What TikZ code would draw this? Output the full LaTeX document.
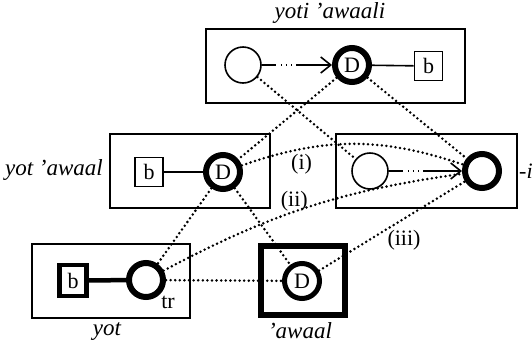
\documentclass[tikz,border=0pt]{standalone}
\usepackage{fontspec}
\setmainfont{Liberation Serif}
\usetikzlibrary{arrows.meta}
\begin{document}
\begin{tikzpicture}[x=1pt,y=-1pt,
  every node/.style={font=\fontsize{22}{26}\selectfont, inner sep=0pt},
  boxc/.style={draw, line width=1.6pt, rectangle, inner sep=0pt},
  thincirc/.style={draw, line width=1.6pt, circle, minimum size=36pt},
  thickcirc/.style={draw, line width=6pt, circle, minimum size=34pt},
  bbox/.style={draw, line width=1.6pt, rectangle, minimum width=28pt, minimum height=29pt},
  lab/.style={font=\fontsize{23}{27}\selectfont\itshape},
  dots/.style={line width=2.8pt, line cap=round, dash pattern=on 0pt off 4.6pt},
  dotarrow/.style={line width=1.6pt, dash pattern=on 14pt off 5pt on 0.1pt off 5pt on 0.1pt off 5pt on 0.1pt off 5pt on 60pt,
     -{Straight Barb[length=10pt,width=16pt,line width=1.6pt]}},
  solidcon/.style={line width=1.6pt}
]
\useasboundingbox (0,0) rectangle (532,346);
% containers
\node[boxc, minimum width=259pt, minimum height=74pt] (topbox) at (335.5,66) {};
\node[boxc, minimum width=160pt, minimum height=74pt] (mlbox) at (190,171) {};
\node[boxc, minimum width=181pt, minimum height=74pt] (mrbox) at (426.5,171) {};
\node[boxc, minimum width=158pt, minimum height=74pt] (yotbox) at (111,281) {};
\node[draw, line width=6pt, minimum width=84pt, minimum height=69pt] (awbox) at (303,280.5) {};
% labels
\node[lab] (ltop) at (330,13) {yoti 'awaali};
\node[lab, anchor=east] (lml) at (103,170) {yot 'awaal};
\node[anchor=west] (lmr) at (519,171) {-\textit{i}};
\node[lab] (lyot) at (107,331) {yot};
\node[lab] (law) at (300,331) {'awaal};
% top row
\node[thincirc] (tE) at (243,65) {};
\node[thickcirc] (tD) at (352,65) {D};
\node[bbox] (tb) at (428.5,66) {b};
% middle left
\node[bbox] (mlb) at (149,172) {b};
\node[thickcirc] (mlD) at (223,172) {D};
% middle right
\node[thincirc] (mrE) at (370,171) {};
\node[thickcirc] (mrT) at (482,171) {};
% bottom
\node[draw, line width=4.5pt, minimum width=27pt, minimum height=31pt] (yb) at (73,280.5) {b};
\node[thickcirc] (yC) at (146,280) {};
\node (tr) at (168,302) {tr};
\node[draw, line width=5pt, circle, minimum size=35pt] (aD) at (302,281) {D};
% solid connectors
\draw[solidcon] (tD) -- (tb);
\draw[solidcon] (mlb) -- (mlD);
\draw[line width=4.5pt] (yb) -- (yC);
% arrows
\draw[dotarrow] (tE) -- (tD);
\draw[dotarrow] (mrE) -- (mrT);
% dotted association lines
\draw[dots] (tE) -- (mrE);
\draw[dots] (tD) -- (mlD);
\draw[dots] (tD) -- (mrT);
\draw[dots] (mlD) to[bend left=19] node[pos=0.26, below=4pt] (li) {(i)} (mrT);
\draw[dots] (yC) to[bend left=10] node[pos=0.45, above=-1pt] (lii) {(ii)} (mrT);
\draw[dots] (mlD) -- (yC);
\draw[dots] (mlD) -- (aD);
\draw[dots] (yC) -- (aD);
\draw[dots] (aD) -- node[pos=0.5, below=3pt, xshift=12pt] (liii) {(iii)} (mrT);
\end{tikzpicture}
\end{document}
